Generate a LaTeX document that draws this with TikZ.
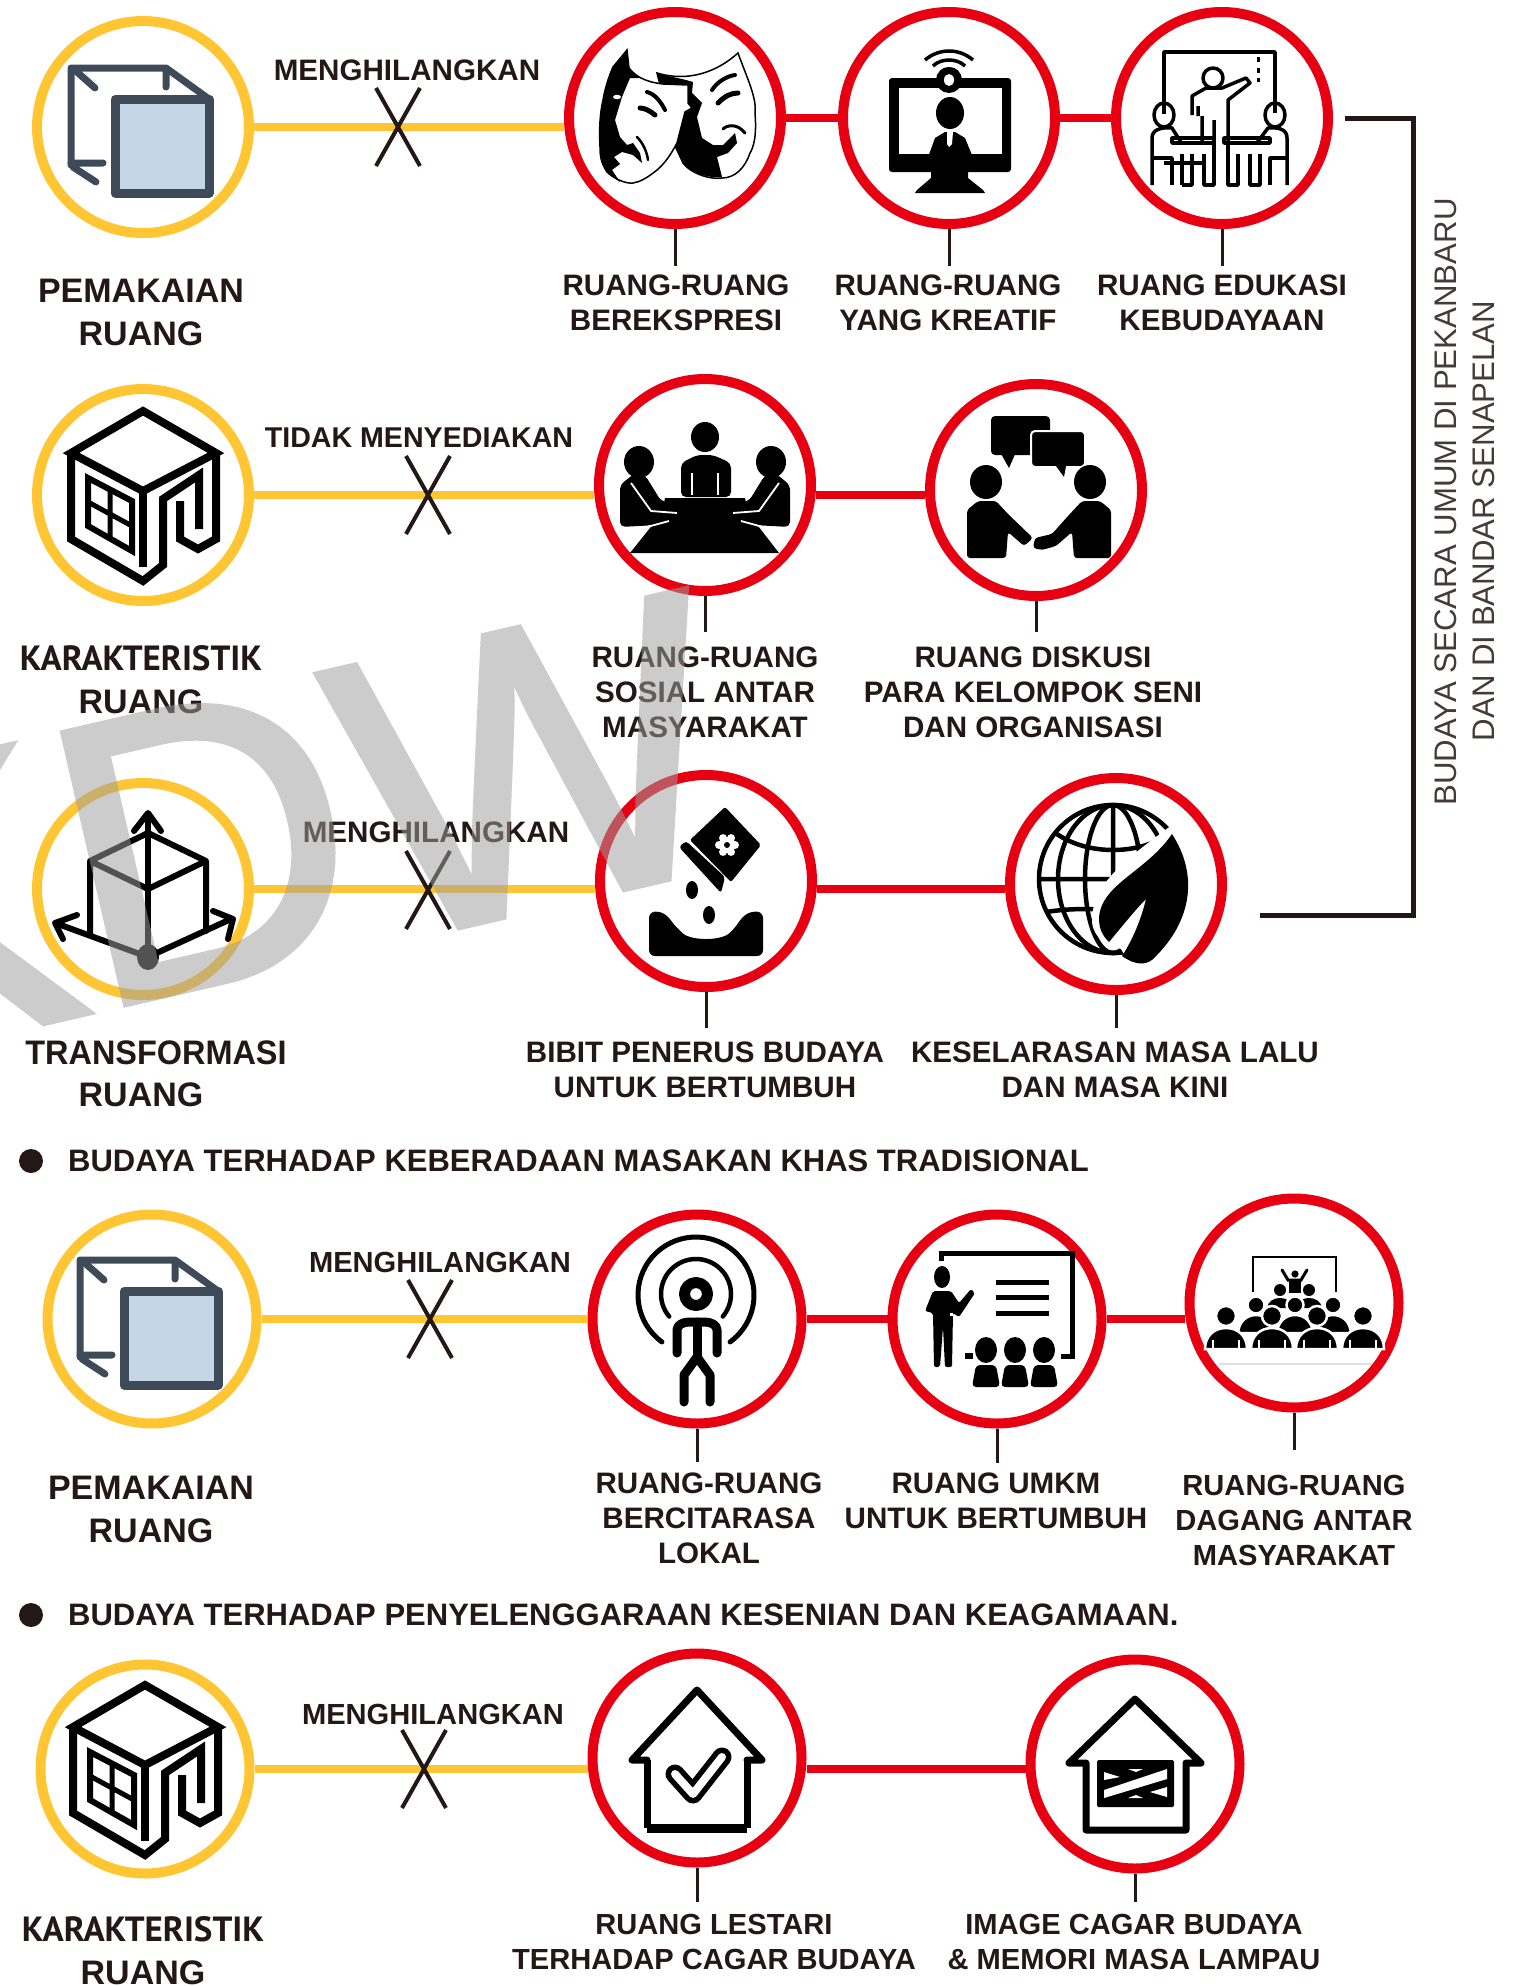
\documentclass[tikz,border=0pt]{standalone}
\usepackage{fontspec}
\usepackage{graphicx}
\setmainfont{Liberation Sans}
\newfontfamily\bigfam{PT Sans}
\newfontfamily\wmfam[FakeBold=1.6]{Liberation Sans}
\usetikzlibrary{calc}
\definecolor{ink}{HTML}{231815}
\definecolor{goldy}{HTML}{FFC533}
\definecolor{redy}{HTML}{E60012}
\definecolor{slate}{HTML}{3F4A59}
\definecolor{paleblue}{HTML}{C5D7E6}
\newcommand\ptword[1]{{\bigfam\fontsize{35}{43}\selectfont #1}}
\tikzset{
 ringy/.style={circle,draw=goldy,line width=10,inner sep=0,minimum size=#1},
 ringy/.default=212,
 ringr/.style={circle,draw=redy,line width=10,inner sep=0,minimum size=#1},
 ringr/.default=212,
 ylink/.style={draw=goldy,line width=8},
 rlink/.style={draw=redy,line width=8},
 stemline/.style={draw=ink,line width=3},
 crossline/.style={draw=ink,line width=4},
 lab/.style={align=center,inner sep=0,text=ink,font=\bfseries\fontsize{29.6}{35}\selectfont},
 labsmall/.style={align=center,inner sep=0,text=ink,font=\bfseries\fontsize{29.1}{35}\selectfont},
 big/.style={align=center,inner sep=0,text=ink,font=\bfseries\fontsize{34}{43}\selectfont},
 head/.style={inner sep=0,anchor=west,text=ink,font=\bfseries\fontsize{31}{35}\selectfont},
 side/.style={align=center,inner sep=0,rotate=90,text=ink!85!white,font=\fontsize{31.2}{39}\selectfont},
}
\newcommand\crossat[1]{\draw[crossline] ([shift={(-22,-39)}]#1) -- ([shift={(22,39)}]#1);\draw[crossline] ([shift={(22,-39)}]#1) -- ([shift={(-22,39)}]#1);}
\newcommand\stemto[3]{\draw[stemline,shorten >=#3pt] (#1.south) -- (#1.south |- #2.north);}
% icons
\newcommand\icopy[1]{\begin{scope}[shift={(#1)},line join=round,line cap=round]
 \draw[slate,line width=7] (-72,38) -- (-72,-59) -- (23,-59) -- (66,-28);
 \draw[slate,line width=7] (-66,-55) -- (-48,-39) (23,-58) -- (23,-40) (-72,36) -- (-40,36) (-70,40) -- (-47,55);
 \filldraw[draw=slate,fill=paleblue,line width=9] (-28,-28) rectangle (66,66);
\end{scope}}
\newcommand\ibuild[1]{\begin{scope}[shift={(#1)},line join=miter,line width=8,black]
 \draw (0,-84) -- (-72,-42) -- (0,-4) -- (73,-42) -- cycle;
 \draw (-72,-42) -- (-72,44) -- (0,86) -- (20,70) -- (20,4) -- (56,-20) -- (56,34);
 \draw (73,-42) -- (73,44) -- (55,54) -- (37,44) -- (37,6);
 \draw (0,-4) -- (0,72);
 \draw[line width=6] (-55,-17) -- (-11,6) -- (-11,56) -- (-55,31) -- cycle;
 \draw[line width=5] (-33,-6) -- (-33,44) (-55,7) -- (-11,31);
\end{scope}}
\newcommand\iaxes[1]{\begin{scope}[shift={(#1)},black,line width=6,line join=round,line cap=round]
 \draw (5,68) -- (5,-72);
 \draw (-9,-58) -- (5,-76) -- (18,-58);
 \draw (-53,45) -- (-53,-28) -- (5,-56) -- (63,-28) -- (63,42) (-53,-28) -- (5,0) -- (63,-28);
 \draw (5,68) -- (-85,35) (5,68) -- (88,30);
 \draw (-80,50) -- (-88,34) -- (-66,26) (70,22) -- (90,30) -- (85,50);
 \fill (5,68) ellipse (11 and 13);
\end{scope}}
\newcommand\imasks[1]{\begin{scope}[shift={(#1)},black]
 % right mask
 \filldraw[fill=white,line width=1.5] (-18,-45) .. controls (5,-38) and (35,-40) .. (63,-65) .. controls (72,-40) and (82,-20) .. (80,-5) .. controls (82,20) and (78,30) .. (75,35) .. controls (70,50) and (60,60) .. (47,60) .. controls (35,62) and (15,55) .. (8,45) -- (1,30) -- cycle;
 \fill (-18,-45) .. controls (-5,-41) and (5,-40) .. (18,-36) -- (17,-25) -- (27,-15) -- (22,-1) -- (27,20) -- (38,27) -- (48,27) -- (60,15) -- (62,25) -- (53,35) -- (42,39) -- (47,59) .. controls (35,61) and (15,55) .. (8,45) -- (1,30) -- cycle;
 \draw[line width=4,line cap=round] (37,-28) .. controls (42,-36) and (52,-42) .. (60,-43);
 \draw[line width=5,line cap=round] (43,-15) .. controls (50,-22) and (56,-25) .. (63,-25);
 \draw[line width=3,line cap=round] (48,11) .. controls (52,7) and (62,5) .. (70,15);
 % left mask
 \filldraw[fill=white,line width=1.5] (-48,-68) -- (-46,-50) .. controls (-40,-42) and (-30,-36) .. (-12,-34) -- (13,-33) -- (13,-15) -- (17,-10) -- (10,-6) -- (2,25) .. controls (-5,38) and (-10,45) .. (-18,52) .. controls (-28,60) and (-35,64) .. (-42,65) .. controls (-50,66) and (-62,60) .. (-68,54) .. controls (-74,45) and (-75,38) .. (-75,29) .. controls (-76,10) and (-75,-5) .. (-72,-18) .. controls (-70,-30) and (-66,-42) .. (-62,-51) -- cycle;
 \fill (-48,-68) -- (-46,-50) -- (-35,-40) -- (-45,-40) -- (-53,-21) -- (-60,2) -- (-55,19) -- (-48,27) -- (-42,25) -- (-35,35) -- (-33,45) -- (-42,37) -- (-53,34) -- (-61,39) -- (-55,46) -- (-63,52) -- (-55,64) .. controls (-60,60) and (-65,58) .. (-68,54) .. controls (-74,45) and (-75,38) .. (-75,29) .. controls (-76,10) and (-75,-5) .. (-72,-18) .. controls (-70,-30) and (-66,-42) .. (-62,-51) -- cycle;
 \fill[white] (-58,-21) ellipse (4 and 2.2);
 \draw[line width=4,line cap=round] (-28,-26) .. controls (-20,-24) and (-14,-16) .. (-10,-8);
 \draw[line width=5,line cap=round] (-35,-10) .. controls (-30,-10) and (-25,-7) .. (-20,-3);
 \draw[line width=2.5,line cap=round] (-38,19) .. controls (-32,25) and (-28,34) .. (-27,42);
\end{scope}}
\newcommand\ivideo[1]{\begin{scope}[shift={(#1)},black]
 \draw[line width=3.5] (-24,-58) .. controls (-10,-70) and (10,-70) .. (24,-58);
 \draw[line width=3.5] (-16,-52) .. controls (-8,-60) and (8,-60) .. (16,-52);
 \draw[line width=3.5] (-8,-46) .. controls (-4,-50) and (4,-50) .. (8,-46);
 \fill[rounded corners=3] (-60,-40) rectangle (62,54);
 \fill[white] (-50,-30) rectangle (53,36);
 \fill (0,-38) ellipse (13 and 13);
 \fill[white] (0,-38) ellipse (5 and 6);
 \fill (1,-5) ellipse (14 and 16);
 \fill (-22,42) -- (-14,20) -- (-4,14) -- (6,14) -- (16,20) -- (25,42) -- cycle;
 \fill (-18,54) -- (19,54) -- (19,60) -- (34,72) -- (36,75) -- (-34,75) -- (-32,72) -- (-18,60) -- cycle;
 \fill[white] (-2,14) -- (4,14) -- (3,26) -- (0,29) -- (-2,26) -- cycle;
\end{scope}}
\newcommand\iclass[1]{\begin{scope}[shift={(#1)},black,line width=3.5,line join=round]
 \draw (-58,-4) -- (-58,-66) -- (53,-66) -- (53,-5);
 \draw[line width=3] (36,-61) -- (36,-56) (36,-50) -- (36,-45) (36,-40) -- (36,-36);
 \draw (-9,-40) circle (10);
 \draw (-30,-3) -- (-30,-22) -- (-16,-30) -- (0,-30) -- (24,-40) -- (28,-35) -- (6,-18) -- (6,24) (-24,-2) -- (-24,-12) (-20,24) -- (-20,-2) (-8,24) -- (-8,2);
 \draw (-58,-3) ellipse (10 and 12) (53,-3) ellipse (10 and 12);
 \draw (-70,67) -- (-70,20) .. controls (-70,12) and (-62,9) .. (-50,10) -- (-40,26) (65,67) -- (65,20) .. controls (65,12) and (58,9) .. (46,10) -- (34,26);
 \draw (-50,20) rectangle (-8,25) (2,20) rectangle (48,25);
 \draw (-58,45) -- (-18,45) (-70,40) -- (-50,40) -- (-50,67) (-40,67) -- (-40,36) (-30,36) -- (-30,67) -- (-40,67) (-18,36) -- (-18,67) -- (-8,67) -- (-8,25);
 \draw (6,25) -- (6,67) -- (16,67) -- (16,36) (28,36) -- (28,67) -- (38,67) -- (38,36) (48,67) -- (48,40) -- (65,40);
\end{scope}}
\newcommand\imeeting[1]{\begin{scope}[shift={(#1)},black]
 \fill (0,-48) ellipse (14 and 15);
 \fill[rounded corners=5] (-24,12) -- (-24,-22) -- (-8,-30) -- (8,-30) -- (26,-22) -- (26,12) -- cycle;
 \draw[white,line width=1.5] (-13,10) -- (-13,-12) (13,10) -- (13,-12);
 \fill (-66,-23) ellipse (15 and 16);
 \fill (66,-23) ellipse (15 and 16);
 \fill (-40,13) -- (40,13) -- (43,28) -- (74,68) -- (-75,68) -- (-43,28) -- cycle;
 \fill[rounded corners=5] (-85,42) -- (-85,0) -- (-70,-12) -- (-60,-10) -- (-44,16) -- (-24,20) -- (-28,36) -- (-48,40) -- cycle;
 \fill[rounded corners=5] (85,42) -- (85,0) -- (70,-12) -- (60,-10) -- (44,16) -- (24,20) -- (28,36) -- (48,40) -- cycle;
 \draw[white,line width=1.8,line join=round] (-74,-2) -- (-54,26) -- (-28,28) (74,-2) -- (54,26) -- (28,28) (-58,42) -- (-36,36) (58,42) -- (36,36);
\end{scope}}
\newcommand\ishake[1]{\begin{scope}[shift={(#1)},black]
 \fill[rounded corners=4] (-45,-74) rectangle (14,-35);
 \fill (-36,-38) -- (-27,-22) -- (-20,-38) -- cycle;
 \filldraw[draw=white,line width=2,rounded corners=4] (-5,-59) rectangle (49,-23);
 \fill (20,-24) -- (28,-13) -- (30,-24) -- cycle;
 \fill (-50,-8) ellipse (16 and 17);
 \fill (54,-8) ellipse (16 and 17);
 \fill[rounded corners=3] (-69,68) -- (-69,20) -- (-58,11) -- (-40,11) -- (-28,24) -- (-3,48) -- (-12,56) -- (-28,42) -- (-30,68) -- cycle;
 \fill[rounded corners=3] (75,68) -- (75,20) -- (64,11) -- (46,11) -- (32,26) -- (16,44) -- (-1,48) -- (-3,58) -- (6,60) -- (20,56) -- (36,42) -- (38,68) -- cycle;
\end{scope}}
\newcommand\iseed[1]{\begin{scope}[shift={(#1)},black]
 \fill[rounded corners=2] (19,-74) -- (55,-36) -- (25,1) -- (-16,-41) -- cycle;
 \fill[white] (21,-36) circle (8);
 \foreach \a in {0,60,...,300} {\fill[white] ($(21,-36)+(\a:8)$) circle (4);}
 \fill (21,-36) circle (3);
 \draw[white,line width=3] (-22,-42) -- (22,2);
 \fill[rounded corners=3] (-27,-34) -- (-20,-40) -- (19,-4) -- (15,12) -- cycle;
 \fill (-14,9) ellipse (6 and 9);
 \fill (3,34) ellipse (6 and 9);
 \fill[rounded corners=6] (-57,31) .. controls (-40,30) and (-35,40) .. (-28,48) .. controls (-15,60) and (15,60) .. (28,48) .. controls (35,38) and (40,30) .. (57,31) -- (57,75) -- (-57,75) -- cycle;
\end{scope}}
\newcommand\iglobe[1]{\begin{scope}[shift={(#1)},black,line width=4.5]
 \draw (-3,-5) circle (74);
 \draw (-3,-79) -- (-3,20) (-3,-5) ellipse (28 and 74);
 \draw (-3,-5) ellipse (55 and 74);
 \draw (-62,-52) .. controls (-30,-28) and (24,-28) .. (56,-52);
 \draw (-77,-5) -- (20,-5) (-70,28) .. controls (-50,25) and (-40,25) .. (-20,25);
 \fill[white] (60,-62) .. controls (10,-25) and (-25,0) .. (-24,38) .. controls (-22,55) and (-10,60) .. (5,65) .. controls (10,75) and (25,90) .. (35,85) .. controls (75,55) and (90,0) .. (60,-62) -- cycle;
 \fill (56,-50) .. controls (30,-12) and (-15,0) .. (-17,34) .. controls (-17,46) and (-13,52) .. (-7,58) .. controls (8,40) and (20,25) .. (30,15) .. controls (24,40) and (14,60) .. (6,72) .. controls (20,82) and (32,82) .. (40,72) .. controls (72,40) and (85,-5) .. (56,-50) -- cycle;
\end{scope}}
\newcommand\iantenna[1]{\begin{scope}[shift={(#1)},black,line cap=round,line join=round]
 \draw[line width=11] (-1,-25) circle (11.5);
 \draw[line width=4.5] (-1,-25) ++(140:35) arc[start angle=140,end angle=400,radius=35];
 \draw[line width=5] (-1,-24) ++(126:58) arc[start angle=126,end angle=414,radius=58];
 \draw[line width=9] (0,3) -- (0,38);
 \draw[line width=9] (-20,34) -- (-20,11) .. controls (-20,6) and (-14,3) .. (-8,3) -- (8,3) .. controls (14,3) and (20,6) .. (20,11) -- (20,34);
 \draw[line width=9] (-13,83) -- (-13,56) -- (0,38) -- (13,56) -- (13,83);
\end{scope}}
\newcommand\ipresent[1]{\begin{scope}[shift={(#1)},black,line join=miter]
 \draw[line width=5] (-56,-58) -- (-56,-66) -- (75,-66) -- (75,37) -- (64,37);
 \draw[line width=5] (-1,-37) -- (52,-37) (-1,-22) -- (52,-22) (-1,-6) -- (52,-6);
 \fill (-55,-42) ellipse (8 and 11);
 \fill[rounded corners=2] (-64,-28) -- (-46,-28) -- (-38,-16) -- (-26,-30) -- (-22,-26) -- (-38,-2) -- (-44,-6) -- (-45,48) -- (-52,48) -- (-54,8) -- (-57,48) -- (-63,48) -- (-64,-6) -- (-72,-8) -- cycle;
 \fill[white] (-47,-6) rectangle (-44,-3);
 \draw[line width=6] (-32,37) -- (-24,37);
 \foreach \x in {-11,18,47} {\fill (\x,31) ellipse (11 and 13);
   \fill[rounded corners=4] (\x-14,68) -- (\x-10,46) -- (\x+10,46) -- (\x+14,68) -- cycle;}
\end{scope}}
\newcommand\backp[1]{\fill (#1,-13) circle (6);\fill (#1-13,5) .. controls (#1-12,-2) and (#1-6,-5) .. (#1,-5) .. controls (#1+6,-5) and (#1+12,-2) .. (#1+13,5) -- cycle;}
\newcommand\midp[1]{\filldraw[draw=white,line width=2.5] (#1,2) circle (8.5);
 \filldraw[draw=white,line width=2.5] (#1-18,30) .. controls (#1-17,18) and (#1-9,12) .. (#1,12) .. controls (#1+9,12) and (#1+17,18) .. (#1+18,30) -- cycle;}
\newcommand\frontp[1]{\filldraw[draw=white,line width=2.5] (#1,13) circle (10);
 \filldraw[draw=white,line width=2.5] (#1-21,46) .. controls (#1-21,33) and (#1-12,25) .. (#1,25) .. controls (#1+12,25) and (#1+21,33) .. (#1+21,46) -- cycle;
 \draw[white,line width=2] (#1-13,47) -- (#1-13,37) (#1+13,47) -- (#1+13,37);}
\newcommand\icrowd[1]{\begin{scope}[shift={(#1)},black]
 \draw[line width=2.8] (-41,-11) -- (-41,-46) -- (42,-46) -- (42,-11);
 \fill (1,-29) circle (3.6);
 \draw[line width=3,line cap=round] (-12,-33) -- (-6,-23) -- (7,-23) -- (13,-33);
 \fill (-5,-24) rectangle (7,-10);
 \backp{-14}\backp{15}
 \midp{-38}\midp{39}\midp{1}
 \frontp{-68}\frontp{-22}\frontp{23}\frontp{69}
 \draw[black!12,line width=1.2] (-75,61) -- (78,61);
\end{scope}}
\newcommand\ihcheck[1]{\begin{scope}[shift={(#1)}]
 \draw[black,line width=7,line join=round] (-50,70) -- (50,70) (-50,2) -- (-50,70) (50,2) -- (50,70);
 \draw[black,line width=7,line join=round,line cap=round] (-50,2) -- (-65,2) -- (0,-68) -- (65,2) -- (50,2);
 \fill[black] (-50,66) rectangle (50,75);
 \draw[black,line width=19,line join=round,line cap=round] (-22,16) -- (-4,36) -- (25,-1);
 \draw[white,line width=8,line join=round,line cap=round] (-22,16) -- (-4,36) -- (25,-1);
\end{scope}}
\newcommand\ihbox[1]{\begin{scope}[shift={(#1)}]
 \draw[black,line width=7,line join=round,line cap=round] (-49,-1) -- (-49,66) -- (51,66) -- (51,-1) -- (66,-1) -- (0,-65) -- (-66,-1) -- cycle;
 \fill[black,rounded corners=1.5] (-38,-4) rectangle (39,43);
 \fill[white] (-31,26) -- (32,5) -- (32,15) -- (-31,34) -- cycle;
 \fill[white] (-31,8) -- (-15,13) -- (-31,16) -- cycle (32,23) -- (15,28) -- (32,33) -- cycle;
 \fill[white] (-7,5) -- (8,5) -- (1,8) -- cycle (-7,34) -- (8,34) -- (1,31) -- cycle;
\end{scope}}
\begin{document}
\begin{tikzpicture}[x=1pt,y=-1pt]
\path[use as bounding box,fill=white] (0,0) rectangle (1523,1986);
\clip (0,0) rectangle (1523,1986);
% ---------- row 1
\node[ringy] (y1) at (143,127) {};
\node[ringr] (r11) at (675,118) {};
\node[ringr] (r12) at (949,118) {};
\node[ringr] (r13) at (1222,118) {};
\draw[ylink] (y1.east) -- (y1.east -| r11.west);
\draw[rlink] (r11) -- (r12);
\draw[rlink] (r12) -- (r13);
\coordinate (x1) at (398,127);
\crossat{x1}
\node[lab] (m1) at (407,70) {MENGHILANGKAN};
\node[big] (b1) at (141,312) {PEMAKAIAN\\RUANG};
\node[lab] (l11) at (676,303) {RUANG-RUANG\\BEREKSPRESI};
\node[lab] (l12) at (948,303) {RUANG-RUANG\\YANG KREATIF};
\node[lab] (l13) at (1222,303) {RUANG EDUKASI\\KEBUDAYAAN};
\stemto{r11}{l11}{9}\stemto{r12}{l12}{9}\stemto{r13}{l13}{9}
\icopy{y1}\imasks{r11}\ivideo{r12}\iclass{r13}
% bracket and side text
\coordinate (brA) at (1345,118);
\coordinate (brB) at (1260,915);
\coordinate (brC) at (1413,118);
\draw[ink,line width=5,line join=miter] (brA) -- (brC) -- (brC |- brB) -- (brB);
\node[side] (s1) at (1446,502) {BUDAYA SECARA UMUM DI PEKANBARU};
\node[side] (s2) at (1484,521) {DAN DI BANDAR SENAPELAN};
% ---------- row 2
\node[ringy] (y2) at (143,495) {};
\node[ringr] (r21) at (705,485) {};
\node[ringr] (r22) at (1036,490) {};
\draw[ylink] (y2.east) -- (y2.east -| r21.west);
\draw[rlink] (y2.east -| r21.east) -- (y2.east -| r22.west);
\coordinate (x2) at (428,495);
\crossat{x2}
\node[lab,font=\bfseries\fontsize{28.6}{35}\selectfont] (m2) at (419,438) {TIDAK MENYEDIAKAN};
\node[big] (b2) at (141,680) {\ptword{KARAKTERISTIK}\\RUANG};
\node[lab] (l21) at (705,692) {RUANG-RUANG\\SOSIAL ANTAR\\MASYARAKAT};
\node[lab] (l22) at (1033,692) {RUANG DISKUSI\\PARA KELOMPOK SENI\\DAN ORGANISASI};
\stemto{r21}{l21}{14}\stemto{r22}{l22}{14}
\ibuild{y2}\imeeting{r21}\ishake{r22}
% ---------- row 3
\node[ringy] (y3) at (143,889) {};
\node[ringr] (r31) at (706,881) {};
\node[ringr] (r32) at (1116,884) {};
\draw[ylink] (y3.east) -- (y3.east -| r31.west);
\draw[rlink] (y3.east -| r31.east) -- (y3.east -| r32.west);
\coordinate (x3) at (428,890);
\crossat{x3}
\node[lab] (m3) at (436,832) {MENGHILANGKAN};
\node[big] (b3a) at (156,1053) {\scalebox{.954}[1]{TRANSFORMASI}};
\node[big] (b3b) at (141,1095) {RUANG};
\node[lab] (l31) at (705,1070) {BIBIT PENERUS BUDAYA\\UNTUK BERTUMBUH};
\node[lab] (l32) at (1115,1070) {KESELARASAN MASA LALU\\DAN MASA KINI};
\stemto{r31}{l31}{14}\stemto{r32}{l32}{14}
\iaxes{y3}\iseed{r31}\iglobe{r32}
% ---------- heading 1
\node[circle,fill=ink,inner sep=0,minimum size=24] (d1) at (31,1161) {};
\node[head] (h1) at (68,1161) {BUDAYA TERHADAP KEBERADAAN MASAKAN KHAS TRADISIONAL};
% ---------- row 4
\node[ringy=209] (y4) at (152,1319) {};
\node[ringr=209] (r41) at (697,1319) {};
\node[ringr=209] (r42) at (997,1319) {};
\node[ringr=209] (r43) at (1294,1303) {};
\draw[ylink] (y4.east) -- (r41.west);
\draw[rlink] (r41) -- (r42);
\draw[rlink] (r42.east) -- (r42.east -| r43.west);
\coordinate (x4) at (430,1319);
\crossat{x4}
\node[labsmall] (m4) at (440,1262) {MENGHILANGKAN};
\node[big] (b4) at (151,1509) {PEMAKAIAN\\RUANG};
\node[lab] (l41) at (709,1518) {RUANG-RUANG\\BERCITARASA\\LOKAL};
\node[lab] (l42) at (996,1501) {RUANG UMKM\\UNTUK BERTUMBUH};
\node[labsmall] (l43) at (1294,1520) {RUANG-RUANG\\DAGANG ANTAR\\MASYARAKAT};
\stemto{r41}{l41}{10}\stemto{r42}{l42}{10}\stemto{r43}{l43}{25}
\icopy{y4}\iantenna{r41}\ipresent{r42}\icrowd{r43}
% ---------- heading 2
\node[circle,fill=ink,inner sep=0,minimum size=24] (d2) at (31,1615) {};
\node[head] (h2) at (68,1615) {BUDAYA TERHADAP PENYELENGGARAAN KESENIAN DAN KEAGAMAAN.};
% ---------- row 5
\node[ringy=209] (y5) at (145,1769) {};
\node[ringr=209] (r51) at (697,1758) {};
\node[ringr=209] (r52) at (1135,1764) {};
\draw[ylink] (y5.east) -- (y5.east -| r51.west);
\draw[rlink] (y5.east -| r51.east) -- (y5.east -| r52.west);
\coordinate (x5) at (424,1769);
\crossat{x5}
\node[labsmall] (m5) at (433,1714) {MENGHILANGKAN};
\node[big] (b5) at (143,1951) {\ptword{KARAKTERISTIK}\\RUANG};
\node[labsmall] (l51) at (714,1942) {RUANG LESTARI\\TERHADAP CAGAR BUDAYA};
\node[labsmall] (l52) at (1134,1942) {IMAGE CAGAR BUDAYA\\\& MEMORI MASA LAMPAU};
\stemto{r51}{l51}{12}\stemto{r52}{l52}{12}
\ibuild{y5}\ihcheck{r51}\ihbox{r52}
% ---------- watermark
\begin{scope}[transparency group,opacity=0.52]
\node[inner sep=0,anchor=base west,rotate=13,text=black!38,font=\wmfam\fontsize{404}{404}\selectfont] (wm) at (-169,1072) {KDW};
\end{scope}
\end{tikzpicture}
\end{document}
